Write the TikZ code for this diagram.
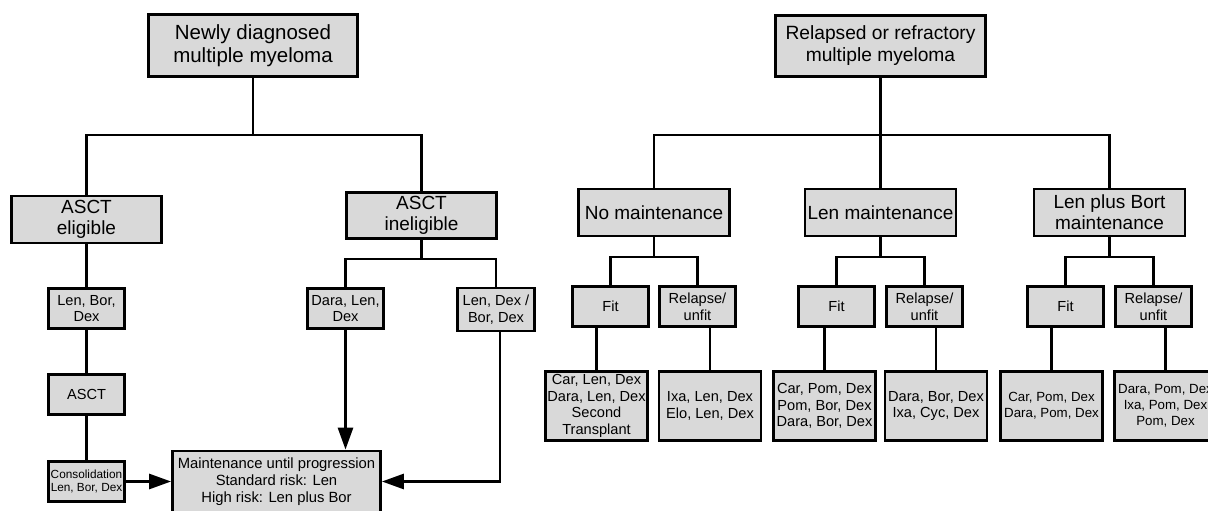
\documentclass[tikz,border=0pt]{standalone}
\usepackage{fontspec}
\setmainfont{Liberation Sans}
\usepackage{tikz}
\usetikzlibrary{arrows.meta}
\definecolor{boxfill}{HTML}{D9D9D9}

\begin{document}
\begin{tikzpicture}[
    x=1pt, y=-1pt,
    box/.style={draw=black, line width=2.8pt, fill=boxfill, text=black,
        align=center, inner sep=0pt},
    head/.style={box, minimum width=209, minimum height=62,
        font=\fontsize{20.5}{22.5}\selectfont},
    branch/.style={box, minimum width=150, minimum height=47,
        font=\fontsize{19}{21}\selectfont},
    drug/.style={box, minimum width=76, minimum height=40,
        font=\fontsize{14.6}{16.8}\selectfont},
    regimen/.style={box, minimum width=102, minimum height=69,
        font=\fontsize{14.6}{16.6}\selectfont},
    link/.style={line width=2.8pt},
    arr/.style={link, -{Triangle[length=22pt, width=15pt]}},
  ]
  \fill[white] (0,0) rectangle (1208,511);
  \useasboundingbox (0,0) rectangle (1208,511);
  \coordinate (busA) at (0,135);
  \coordinate (busB) at (0,259);
  \coordinate (busC) at (0,257);
  % newly diagnosed
  \node[head] (nd) at (253,45.5) {Newly diagnosed\\multiple myeloma};
  \node[branch] (elig) at (86.5,219.5) {ASCT\\eligible};
  \node[branch, minimum height=46] (inel) at (421.5,215.5) {ASCT\\ineligible};
  \draw[link] (nd.south) -- (nd.south |- busA);
  \draw[link] (elig.north) |- (nd.south |- busA) -| (inel.north);
  \node[drug] (lbd) at (86.5,308.5) {Len, Bor,\\Dex};
  \node[drug] (asct) at (86.5,394.5) {ASCT};
  \node[drug, font=\fontsize{11.8}{13.3}\selectfont] (cons) at (86.5,481.5) {Consolidation\\Len, Bor, Dex};
  \draw[link] (elig.south) -- (lbd.north);
  \draw[link] (lbd.south) -- (asct.north);
  \draw[link] (asct.south) -- (cons.north);
  \node[drug, minimum width=77, minimum height=43] (ldbd) at (496,309.5) {Len, Dex /\\Bor, Dex};
  \node[drug] (dld) at (345.5,308.5) {Dara, Len,\\Dex};
  \draw[link] (inel.south) -- (inel.south |- busB);
  \draw[link] (dld.north) |- (inel.south |- busB) -| (ldbd.north);
  \node[box, minimum width=208, minimum height=61, font=\fontsize{14.8}{16.7}\selectfont] (maint) at (276.5,481.5) {Maintenance until progression\\Standard risk: Len\\High risk: Len plus Bor};
  \draw[arr] (cons.east) -- (maint.west);
  \draw[arr] (dld.south) -- (dld.south |- maint.north);
  \draw[arr] ([xshift=4pt]ldbd.south) |- (maint.east);
  % relapsed or refractory
  \node[head, minimum width=210, minimum height=61, font=\fontsize{19.2}{22}\selectfont] (rr) at (880.5,46) {Relapsed or refractory\\multiple myeloma};
  \node[branch, minimum width=151] (nm) at (654,212.5) {No maintenance};
  \node[branch, minimum width=151] (lm) at (880.5,212.5) {Len maintenance};
  \node[branch, minimum width=151] (bm) at (1109.5,212.5) {Len plus Bort\\maintenance};
  \draw[link] (rr.south) -- (lm.north);
  \draw[link] (nm.north) |- (rr.south |- busA) -| (bm.north);
  \node[drug] (f1) at (610.5,306.5) {Fit};
  \node[drug] (u1) at (697.5,306.5) {Relapse/\\unfit};
  \draw[link] (nm.south) -- (nm.south |- busC);
  \draw[link] (f1.north) |- (nm.south |- busC) -| (u1.north);
  \node[regimen] (rf1) at (596.5,406) {Car, Len, Dex\\Dara, Len, Dex\\Second\\Transplant};
  \node[regimen] (ru1) at (710,406) {Ixa, Len, Dex\\Elo, Len, Dex};
  \draw[link] (rf1.north |- f1.south) -- (rf1.north);
  \draw[link] (ru1.north |- u1.south) -- (ru1.north);
  \node[drug] (f2) at (836.5,306.5) {Fit};
  \node[drug] (u2) at (924.5,306.5) {Relapse/\\unfit};
  \draw[link] (lm.south) -- (lm.south |- busC);
  \draw[link] (f2.north) |- (lm.south |- busC) -| (u2.north);
  \node[regimen] (rf2) at (824.5,406) {Car, Pom, Dex\\Pom, Bor, Dex\\Dara, Bor, Dex};
  \node[regimen] (ru2) at (936,406) {Dara, Bor, Dex\\Ixa, Cyc, Dex};
  \draw[link] (rf2.north |- f2.south) -- (rf2.north);
  \draw[link] (ru2.north |- u2.south) -- (ru2.north);
  \node[drug] (f3) at (1065.5,306.5) {Fit};
  \node[drug] (u3) at (1153.5,306.5) {Relapse/\\unfit};
  \draw[link] (bm.south) -- (bm.south |- busC);
  \draw[link] (f3.north) |- (bm.south |- busC) -| (u3.north);
  \node[regimen, font=\fontsize{13.3}{16}\selectfont] (rf3) at (1051.5,406) {Car, Pom, Dex\\Dara, Pom, Dex};
  \node[regimen, font=\fontsize{13.3}{16}\selectfont] (ru3) at (1165.5,406) {Dara, Pom, Dex\\Ixa, Pom, Dex\\Pom, Dex};
  \draw[link] (rf3.north |- f3.south) -- (rf3.north);
  \draw[link] (ru3.north |- u3.south) -- (ru3.north);
\end{tikzpicture}
\end{document}
